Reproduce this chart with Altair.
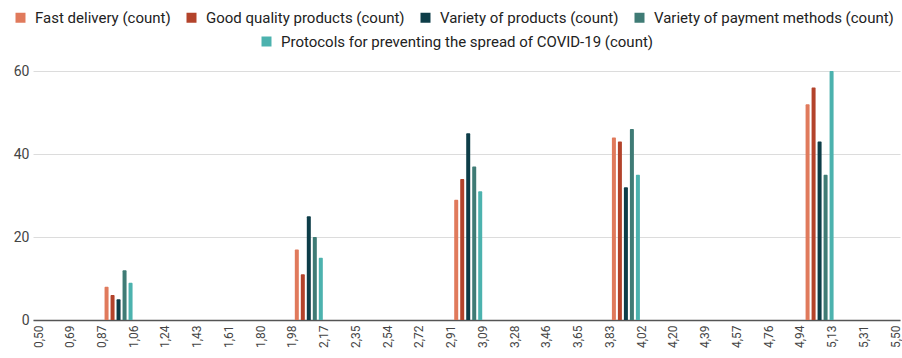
import altair as alt
import pandas as pd

# Survey counts per rating bucket for each delivery-service aspect
series = [
    "Fast delivery (count)",
    "Good quality products (count)",
    "Variety of products (count)",
    "Variety of payment methods (count)",
    "Protocols for preventing the spread of COVID-19 (count)",
]
colors = ["#e07a5c", "#b3432b", "#0d3d48", "#3f7b75", "#4cb2ae"]

bucket_x = [0.97, 2.08, 3.01, 3.93, 5.06]
fast_delivery = [8, 17, 29, 44, 52]
good_quality = [6, 11, 34, 43, 56]
variety_products = [5, 25, 45, 32, 43]
variety_payment = [12, 20, 37, 46, 35]
covid_protocols = [9, 15, 31, 35, 60]

x_ticks = [0.5, 0.6852, 0.8704, 1.0556, 1.2407, 1.4259, 1.6111, 1.7963,
           1.9815, 2.1667, 2.3519, 2.537, 2.7222, 2.9074, 3.0926, 3.2778,
           3.463, 3.6481, 3.8333, 4.0185, 4.2037, 4.3889, 4.5741, 4.7593,
           4.9444, 5.1296, 5.3148, 5.5]
y_ticks = [0, 20, 40, 60]

# spacing between neighbouring bars of one bucket, in x units
BAR_STEP = 0.035

values = [fast_delivery, good_quality, variety_products, variety_payment, covid_protocols]
rows = []
for i, (name, vals) in enumerate(zip(series, values)):
    for x, v in zip(bucket_x, vals):
        rows.append({"x": x, "slot": i - 2, "series": name, "count": v})
df = pd.DataFrame(rows)

FONT = "Roboto"

x_enc = alt.X(
    "xb:Q",
    scale=alt.Scale(domain=[0.5, 5.5], nice=False, zero=False),
    axis=alt.Axis(
        values=x_ticks,
        labelExpr="replace(format(datum.value, '.2f'), '.', ',')",
        labelAngle=-90,
        labelFontSize=12,
        labelFont=FONT,
        labelColor="#444444",
        labelPadding=5,
        ticks=False,
        grid=False,
        domainColor="#555555",
        domainWidth=1.5,
        title=None,
    ),
)
y_enc = alt.Y(
    "count:Q",
    stack=None,
    scale=alt.Scale(domain=[0, 60], nice=False),
    axis=alt.Axis(
        values=y_ticks,
        labelFontSize=14,
        labelFont=FONT,
        labelColor="#444444",
        labelPadding=4,
        ticks=False,
        domain=False,
        gridColor="#dcdcdc",
        gridWidth=1,
        title=None,
    ),
)

legend_common = dict(
    orient="none",
    direction="horizontal",
    symbolType="square",
    symbolSize=100,
    symbolStrokeWidth=0,
    labelFont=FONT,
    labelFontSize=15,
    labelColor="#222222",
    labelOffset=7,
    labelLimit=500,
    columnPadding=13,
    title=None,
)

base = alt.Chart(df).transform_calculate(
    xb=f"datum.x + datum.slot * {BAR_STEP}"
)

main = base.transform_filter(
    alt.FieldOneOfPredicate(field="series", oneOf=series[:4])
).mark_bar(size=4, cornerRadiusTopLeft=1, cornerRadiusTopRight=1).encode(
    x=x_enc,
    y=y_enc,
    color=alt.Color(
        "series:N",
        scale=alt.Scale(domain=series[:4], range=colors[:4]),
        legend=alt.Legend(columns=4, legendX=-20, legendY=-61, **legend_common),
    ),
)

covid = base.transform_filter(
    alt.FieldEqualPredicate(field="series", equal=series[4])
).mark_bar(size=4, cornerRadiusTopLeft=1, cornerRadiusTopRight=1).encode(
    x=x_enc,
    y=y_enc,
    color=alt.Color(
        "series:N",
        scale=alt.Scale(domain=series[4:], range=colors[4:]),
        legend=alt.Legend(legendX=226, legendY=-37, **legend_common),
    ),
)

chart = alt.layer(main, covid).resolve_scale(color="independent").properties(
    width=867,
    height=249,
    autosize=alt.AutoSizeParams(type="none"),
    padding={"left": 33, "top": 71, "right": 2, "bottom": 38},
    background="white",
).configure_view(stroke=None)

chart.save("out.html", embed_options={"renderer": "svg", "actions": False})
